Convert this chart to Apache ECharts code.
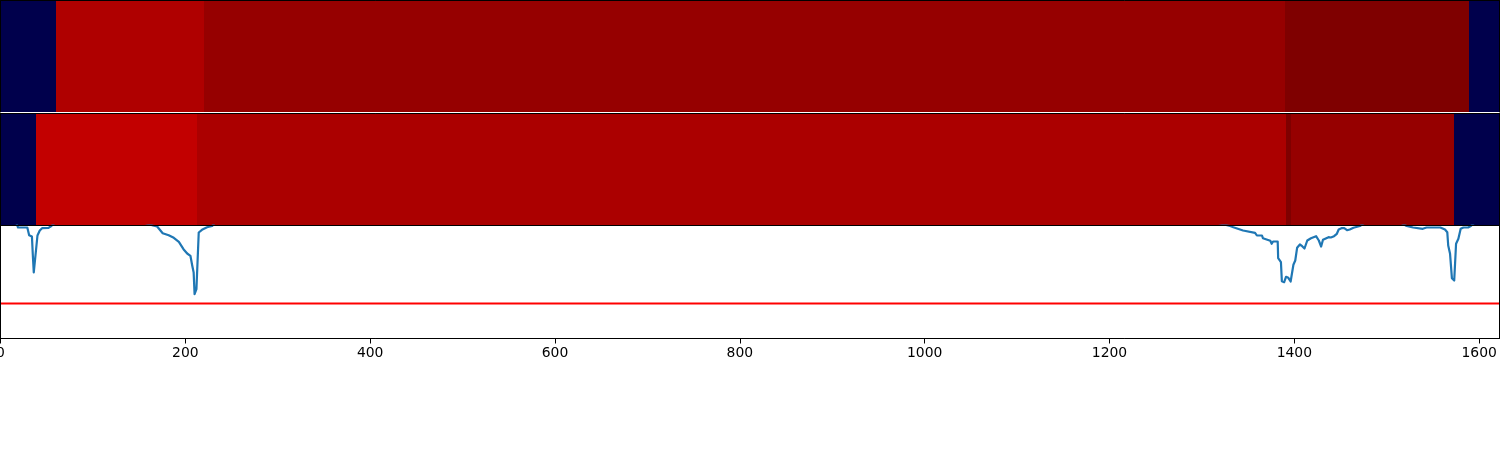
<!DOCTYPE html>
<html><head><meta charset="utf-8">
<style>html,body{margin:0;padding:0;background:#fff}#c{width:1500px;height:450px}</style>
<script src="https://cdn.jsdelivr.net/npm/echarts@6/dist/echarts.min.js"></script>
</head><body><div id="c"></div>
<script>
const xTicks = [0,200,400,600,800,1000,1200,1400,1600];
const topEdges = [0,60.5,220.5,1390,1589,1622];
const topColors = ['#00004c','#af0000','#960000','#7f0000','#00004c'];
const midEdges = [0,38.5,213,1391,1396,1573,1622];
const midColors = ['#00004c','#c20000','#ab0000','#7f0000','#960000','#00004c'];
const lineX = [0,17,19,29,31,34,35,36,38,40,42.5,45,52,55,59,
 155,165,169.5,171,175.5,182,187.5,193,198,202,205.5,207.5,209,210,212,213.5,214.5,218,223.5,229,232,
 1316,1330.5,1334,1344.5,1357.5,1359.5,1365,1366,1374,1375.5,1377,1382,1382.5,1385.5,1386.5,1389,1391,1393.5,1396,1398,1399,1401,1403,1406,1408.5,1411,1414,1418,1420,1423.5,1426.5,1429,1431,1433,1437,1439.5,1440.5,1443,1446,1448,1451,1454,1457,1460,1464,1471,1476,
 1515,1521.5,1528.5,1539,1543,1558,1563,1565.5,1566.5,1568.5,1570.5,1573,1574,1575,1577.5,1580,1583,1588,1591,1595,1622];
const lineY = [116,116,111,111,103.3,102,83,66,66,103,108,110.3,110.7,112.5,116,
 116,113,112,110,105.3,103.3,100.7,96.7,89.3,85,82.7,72.7,66,44.3,49.3,47.7,106,108.7,111.3,112.5,116,
 116,112.5,111.3,108,105.7,103,103,100.3,97.7,94.7,97,97,80.3,76.3,57.3,56.3,61.7,60.7,57,58,73.7,78,90.7,94,92.3,90,98,100.3,99.7,102.3,98,92,98.7,98,101.3,101,103,102.3,104.7,109,110.3,110.3,108.3,109,110.7,112.5,116,
 116,112.5,111,109.7,111,111,109,106.3,93,84.7,60.3,58,60,94.7,99.7,109.7,111,111,112.5,116,116];
const thresholdX = [0,1622];
const thresholdY = [35,35];
const xMax = 1622, yMax = 113;
const tickText = v => String(v);

function band(edges, colors){ return colors.map((c,i)=>({value:[edges[i],edges[i+1]],itemStyle:{color:c}})); }
function renderBand(params, api){
  const a = api.coord([api.value(0), 0]), b = api.coord([api.value(1), 1]);
  const x0 = Math.round(a[0]), x1 = Math.round(b[0]);
  return {type:'rect', shape:{x:x0,y:b[1],width:x1-x0,height:a[1]-b[1]}, style:api.style()};
}
const grids = [
  {left:0.5,width:1499,top:0.5,height:111.5,outerBoundsMode:'none'},
  {left:0.5,width:1499,top:113.5,height:112,outerBoundsMode:'none'},
  {left:0.5,width:1499,top:225.5,height:113,outerBoundsMode:'none'}
];
const lineStyleK = {color:'#000',width:1};
const xAxes=[], yAxes=[];
grids.forEach((g,i)=>{
  const last = i===2;
  xAxes.push({gridIndex:i,type:'value',min:0,max:xMax,position:'bottom',z:10,splitLine:{show:false},
    axisLine:{show:i!==0,onZero:false,lineStyle:lineStyleK},
    axisTick:{show:last,length:5,lineStyle:lineStyleK,customValues:xTicks},
    axisLabel:{show:last,color:'#000',fontFamily:'DejaVu Sans',fontSize:13.9,margin:7.5,customValues:xTicks,formatter:tickText,showMinLabel:true,showMaxLabel:true,hideOverlap:false}});
  xAxes.push({gridIndex:i,type:'value',min:0,max:xMax,position:'top',z:10,splitLine:{show:false},
    axisLine:{show:true,onZero:false,lineStyle:lineStyleK},axisTick:{show:false},axisLabel:{show:false}});
  const ymax = last?yMax:1;
  yAxes.push({gridIndex:i,type:'value',min:0,max:ymax,position:'left',z:10,splitLine:{show:false},
    axisLine:{show:true,onZero:false,lineStyle:lineStyleK},axisTick:{show:false},axisLabel:{show:false}});
  yAxes.push({gridIndex:i,type:'value',min:0,max:ymax,position:'right',z:10,splitLine:{show:false},
    axisLine:{show:true,onZero:false,lineStyle:lineStyleK},axisTick:{show:false},axisLabel:{show:false}});
});
const chart = echarts.init(document.getElementById('c'),null,{renderer:'canvas'});
chart.setOption({
  animation:false, backgroundColor:'#fff',
  grid:grids, xAxis:xAxes, yAxis:yAxes,
  series:[
    {type:'custom',xAxisIndex:0,yAxisIndex:0,renderItem:renderBand,data:band(topEdges,topColors),encode:{x:[0,1]},clip:true,silent:true},
    {type:'custom',xAxisIndex:2,yAxisIndex:2,renderItem:renderBand,data:band(midEdges,midColors),encode:{x:[0,1]},clip:true,silent:true},
    {type:'line',xAxisIndex:4,yAxisIndex:4,data:lineX.map((x,i)=>[x,lineY[i]]),showSymbol:false,symbol:'none',clip:true,
      lineStyle:{color:'#1f77b4',width:2.2,join:'round'},silent:true},
    {type:'line',xAxisIndex:4,yAxisIndex:4,data:thresholdX.map((x,i)=>[x,thresholdY[i]]),showSymbol:false,symbol:'none',clip:true,
      lineStyle:{color:'#ff0000',width:2.2},silent:true}
  ]
});
</script></body></html>
